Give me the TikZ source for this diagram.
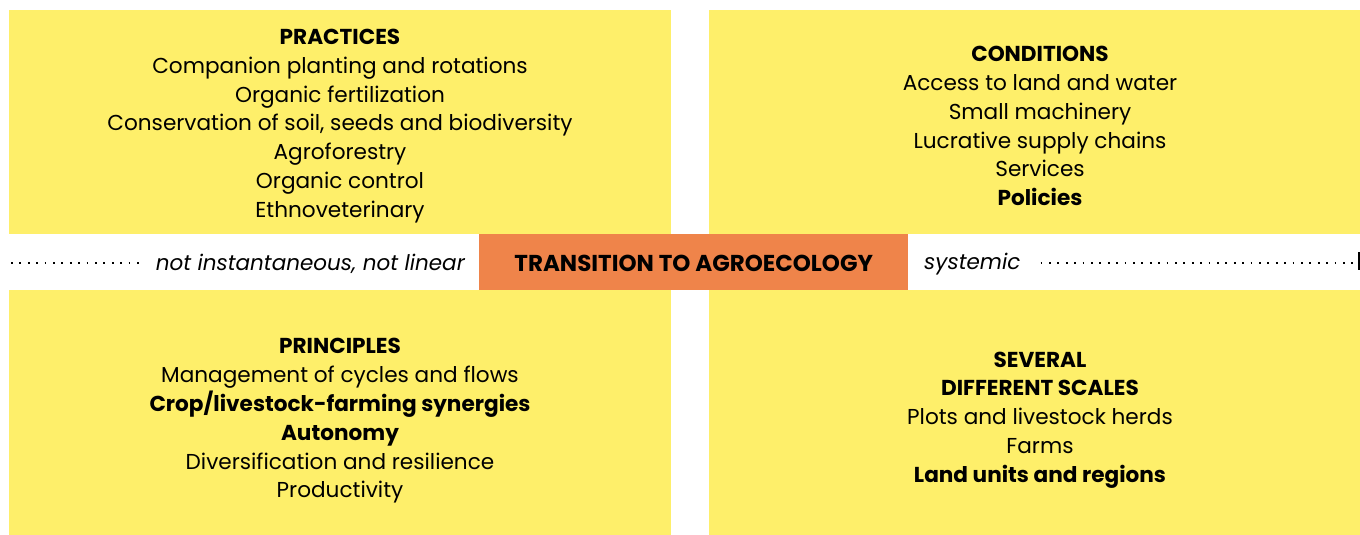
\documentclass[tikz,border=0pt]{standalone}
\usepackage{fontspec}
\setmainfont{Poppins}
\usetikzlibrary{positioning}

\definecolor{panelyellow}{RGB}{254,239,106}
\definecolor{huborange}{RGB}{239,132,74}

\tikzset{
  panel/.style={rectangle,fill=panelyellow,draw=none,anchor=north west,inner sep=0pt},
  hub/.style={rectangle,fill=huborange,draw=none,anchor=north west,inner sep=0pt},
  paneltext/.style={align=center,font=\fontsize{21.6}{28.8}\selectfont,inner sep=0pt},
  note/.style={font=\fontsize{21.5}{26}\selectfont\itshape,inner sep=0pt},
  dotline/.style={line width=1.8pt,dash pattern=on 1.8pt off 6.6pt}
}

\begin{document}
\begin{tikzpicture}[x=1pt,y=-1pt]
		% canvas
		\useasboundingbox (0,0) rectangle (1360,535);

		% yellow panels
		\node[panel,minimum width=662,minimum height=224] (practbox) at (9,10) {};
		\node[panel,minimum width=651,minimum height=224] (condbox) at (709,10) {};
		\node[panel,minimum width=662,minimum height=245] (princbox) at (9,290) {};
		\node[panel,minimum width=651,minimum height=245] (scalebox) at (709,290) {};

		% centre band
		\node[hub,minimum width=429,minimum height=56] (hubbox) at (479,234) {};
		\node[font=\fontsize{23}{28}\selectfont\bfseries,inner sep=0pt] (hubtext) at ([yshift=-1pt]hubbox.center) {TRANSITION TO AGROECOLOGY};

		% panel contents
		\node[paneltext] (practices) at (340,126) {\textbf{PRACTICES}\\Companion planting and rotations\\Organic fertilization\\Conservation of soil, seeds and biodiversity\\Agroforestry\\Organic control\\Ethnoveterinary};
		\node[paneltext] (conditions) at (1040,126) {\textbf{CONDITIONS}\\Access to land and water\\Small machinery\\Lucrative supply chains\\Services\\\textbf{Policies}};
		\node[paneltext] (principles) at (340,421) {\textbf{PRINCIPLES}\\Management of cycles and flows\\\textbf{Crop/livestock-farming synergies}\\\textbf{Autonomy}\\Diversification and resilience\\Productivity};
		\node[paneltext] (scales) at (1040,420) {\textbf{SEVERAL}\\\textbf{DIFFERENT SCALES}\\Plots and livestock herds\\Farms\\\textbf{Land units and regions}};

		% side notes
		\node[note,anchor=east] (linnote) at (465,264) {not instantaneous, not linear};
		\node[note,anchor=west] (sysnote) at (924,264) {systemic};

		% dotted axis
		\coordinate (leftend) at (11,263);
		\coordinate (rightend) at (1355,263);
		\draw[dotline,shorten >=17pt] (leftend) -- (linnote.west |- leftend);
		\draw[dotline,shorten <=20pt] (sysnote.east |- rightend) -- (rightend);
		\draw[line width=1.2pt] (1359,252) -- (1359,270);
	\end{tikzpicture}
\end{document}
